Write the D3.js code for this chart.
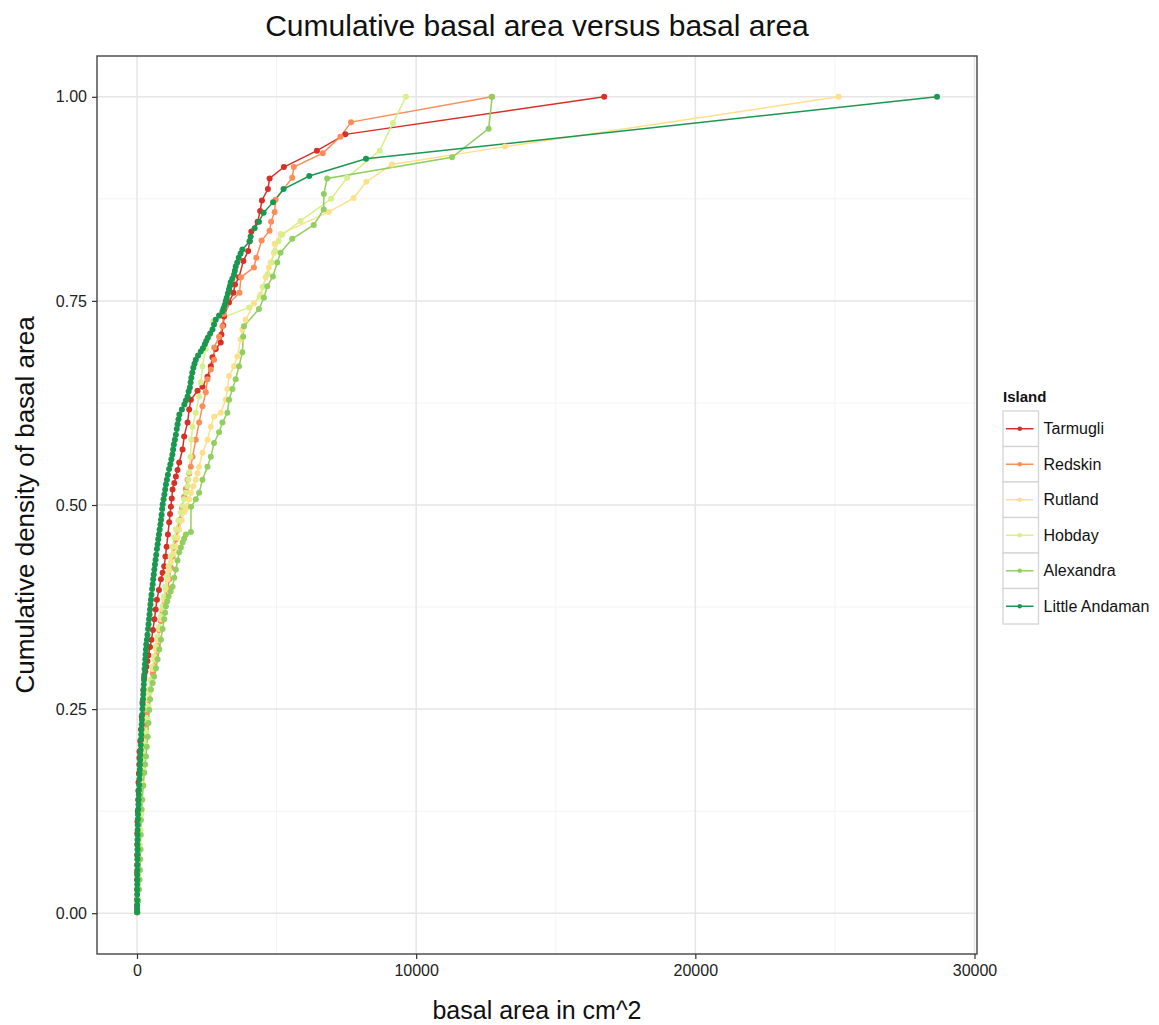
<!DOCTYPE html>
<html>
<head>
<meta charset="utf-8">
<script src="https://cdn.jsdelivr.net/npm/d3@7"></script>
<style>
  body { margin: 0; background: #fff; }
  text { font-family: "Liberation Sans", Arial, sans-serif; }
</style>
</head>
<body>
<svg id="chart" width="1159" height="1025"></svg>
<script>
// Islands in legend order, with the RdYlGn palette used for them
const islands = ["Tarmugli", "Redskin", "Rutland", "Hobday", "Alexandra", "Little Andaman"];
const palette = ["#D73027", "#FC8D59", "#FEE08B", "#D9EF8B", "#91CF60", "#1A9850"];

// Basal area (cm^2) of each plotted tree and the cumulative density reached at it
const tarmugliArea = [1,2,3,4,5,6,7,8,9,13,18,30,43,48,54,68,82,86,89,116,143,170,196,226,257,298,339,375,411,465,518,571,625,670,714,785,857,916,975,1018,1061,1108,1154,1184,1214,1245,1275,1334,1393,1452,1511,1632,1689,1811,1868,1929,2168,2346,2525,2643,2704,2821,3000,3025,3089,3118,3296,3454,3511,3654,3811,3982,4036,4096,4321,4411,4475,4690,4750,5262,6446,7464,16736];
const tarmugliCum  = [0.001,0.009,0.017,0.029,0.041,0.050,0.059,0.071,0.084,0.098,0.112,0.125,0.139,0.150,0.160,0.171,0.182,0.190,0.198,0.211,0.225,0.241,0.258,0.273,0.289,0.296,0.302,0.309,0.316,0.326,0.335,0.347,0.360,0.372,0.384,0.396,0.409,0.417,0.425,0.437,0.449,0.464,0.479,0.489,0.498,0.508,0.519,0.527,0.535,0.543,0.552,0.568,0.584,0.601,0.617,0.629,0.640,0.645,0.657,0.670,0.681,0.691,0.699,0.709,0.720,0.731,0.748,0.760,0.770,0.779,0.799,0.811,0.823,0.835,0.847,0.860,0.873,0.887,0.900,0.914,0.934,0.954,1.000];

const redskinArea = [2,6,11,22,36,52,71,92,114,140,168,194,221,262,304,357,411,465,518,568,618,679,739,768,796,857,918,977,1036,1095,1154,1215,1275,1334,1393,1465,1536,1612,1689,1750,1811,1870,1929,1989,2107,2225,2346,2464,2525,2643,2761,2765,2939,3061,3107,3179,3671,3725,4189,4275,4464,4750,4804,4929,4964,5561,5618,6654,7286,7668,12704];
const redskinCum  = [0.001,0.015,0.029,0.047,0.066,0.084,0.102,0.121,0.139,0.158,0.176,0.191,0.206,0.218,0.231,0.246,0.261,0.274,0.286,0.294,0.302,0.315,0.327,0.337,0.347,0.358,0.368,0.378,0.388,0.398,0.409,0.423,0.437,0.448,0.458,0.470,0.482,0.496,0.510,0.520,0.531,0.539,0.547,0.559,0.580,0.601,0.621,0.638,0.654,0.666,0.678,0.693,0.706,0.719,0.734,0.743,0.760,0.779,0.791,0.803,0.824,0.836,0.847,0.859,0.874,0.901,0.914,0.931,0.951,0.969,1.000];

const rutlandArea = [3,18,36,52,71,95,118,143,168,191,214,241,268,295,321,357,393,438,482,550,618,679,739,798,857,916,975,1036,1096,1155,1214,1304,1393,1452,1511,1600,1689,1750,1811,1870,1929,2018,2107,2166,2225,2346,2525,2643,2761,3000,3179,3239,3296,3475,3596,3714,3775,3893,4189,4429,4607,4725,4786,4904,4929,5143,6868,7761,8214,9132,13186,25132];
const rutlandCum  = [0.001,0.015,0.029,0.047,0.066,0.084,0.102,0.121,0.139,0.158,0.176,0.191,0.206,0.222,0.237,0.250,0.262,0.274,0.286,0.299,0.311,0.323,0.335,0.348,0.360,0.372,0.384,0.397,0.409,0.420,0.430,0.440,0.449,0.460,0.470,0.481,0.491,0.495,0.499,0.507,0.515,0.523,0.531,0.539,0.547,0.564,0.580,0.596,0.608,0.613,0.629,0.642,0.658,0.670,0.682,0.703,0.715,0.727,0.747,0.758,0.779,0.791,0.797,0.809,0.820,0.832,0.859,0.876,0.896,0.917,0.939,1.000];

const hobdayArea = [4,20,36,54,71,98,125,152,179,205,232,268,304,343,382,410,439,500,561,620,679,738,796,857,918,965,1011,1072,1132,1204,1275,1334,1393,1482,1571,1630,1689,1750,1811,1840,1868,1911,1946,1989,2107,2225,2286,2346,2464,2582,2732,4011,4393,4500,4679,4821,4946,5071,5204,5857,6954,7525,8696,9171,9632];
const hobdayCum  = [0.001,0.018,0.035,0.051,0.066,0.084,0.102,0.121,0.139,0.158,0.176,0.191,0.206,0.221,0.237,0.253,0.270,0.286,0.302,0.315,0.327,0.339,0.351,0.364,0.376,0.388,0.400,0.413,0.425,0.437,0.449,0.460,0.470,0.481,0.491,0.499,0.507,0.515,0.523,0.531,0.540,0.559,0.580,0.596,0.613,0.633,0.650,0.670,0.691,0.707,0.725,0.742,0.755,0.767,0.783,0.797,0.811,0.823,0.831,0.848,0.875,0.901,0.934,0.968,1.000];

const alexandraArea = [18,45,71,89,107,116,125,134,143,166,189,225,261,291,321,352,382,410,439,470,500,559,618,679,739,798,857,916,975,1006,1036,1084,1132,1204,1275,1334,1393,1452,1511,1572,1632,1691,1750,1929,1936,2107,2225,2346,2525,2643,2761,2939,3061,3239,3296,3418,3536,3654,3775,3804,3832,4368,4546,4668,4868,5025,5143,5561,6332,6689,6693,6811,11286,12597,12721];
const alexandraCum  = [0.001,0.015,0.029,0.041,0.053,0.066,0.078,0.096,0.114,0.127,0.139,0.156,0.172,0.182,0.192,0.204,0.216,0.233,0.249,0.262,0.274,0.282,0.290,0.300,0.311,0.323,0.335,0.348,0.360,0.368,0.376,0.382,0.388,0.394,0.400,0.411,0.421,0.432,0.442,0.448,0.454,0.459,0.464,0.467,0.498,0.507,0.515,0.531,0.547,0.559,0.576,0.589,0.601,0.613,0.629,0.642,0.654,0.670,0.687,0.706,0.719,0.740,0.754,0.768,0.780,0.797,0.809,0.826,0.843,0.862,0.881,0.900,0.926,0.961,1.000];

const littleAndamanArea = [2,3,4,5,6,7,8,9,10,11,12,14,15,17,18,19,20,22,25,30,36,43,50,57,64,71,79,86,93,100,107,114,121,129,136,143,150,159,168,177,186,195,204,214,225,234,243,252,261,273,286,296,307,320,332,354,375,395,414,432,450,466,482,500,518,540,561,580,600,621,643,666,689,714,739,762,786,812,839,861,882,902,921,951,982,1009,1036,1071,1107,1150,1196,1232,1268,1295,1321,1357,1393,1424,1454,1486,1518,1607,1696,1750,1811,1850,1893,1920,1946,1980,2018,2060,2107,2190,2286,2360,2429,2480,2536,2620,2704,2760,2821,2940,3061,3100,3143,3180,3214,3255,3296,3325,3357,3415,3475,3505,3536,3590,3643,3710,3775,4036,4071,4214,4368,4536,4875,5250,6171,8204,28657];
const littleAndamanCum  = [0.001,0.005,0.010,0.016,0.023,0.029,0.035,0.041,0.047,0.053,0.059,0.066,0.072,0.078,0.084,0.090,0.096,0.102,0.108,0.115,0.121,0.127,0.133,0.139,0.145,0.151,0.157,0.164,0.170,0.176,0.182,0.188,0.194,0.200,0.206,0.213,0.219,0.225,0.231,0.237,0.243,0.250,0.256,0.262,0.268,0.274,0.280,0.286,0.292,0.299,0.305,0.311,0.317,0.323,0.329,0.335,0.341,0.348,0.354,0.360,0.366,0.372,0.378,0.384,0.390,0.397,0.403,0.409,0.415,0.421,0.427,0.433,0.439,0.446,0.452,0.458,0.464,0.470,0.476,0.482,0.488,0.495,0.501,0.507,0.513,0.519,0.525,0.531,0.537,0.544,0.550,0.556,0.562,0.568,0.574,0.580,0.586,0.593,0.599,0.605,0.611,0.617,0.623,0.628,0.633,0.639,0.644,0.650,0.656,0.662,0.668,0.673,0.678,0.683,0.688,0.692,0.697,0.701,0.705,0.710,0.715,0.721,0.727,0.732,0.737,0.741,0.745,0.750,0.754,0.759,0.764,0.768,0.773,0.777,0.782,0.787,0.792,0.797,0.803,0.808,0.813,0.823,0.829,0.839,0.847,0.858,0.871,0.887,0.903,0.924,1.000];

// Axis ticks
const xTicks = [0, 10000, 20000, 30000];
const xMinorTicks = [5000, 15000, 25000];
const yTicks = [0, 0.25, 0.5, 0.75, 1];
const yMinorTicks = [0.125, 0.375, 0.625, 0.875];

const titleText = "Cumulative basal area versus basal area";
const xLabel = "basal area in cm^2";
const yLabel = "Cumulative density of basal area";
const legendTitle = "Island";

// Assemble one record per island for drawing
const areas = [tarmugliArea, redskinArea, rutlandArea, hobdayArea, alexandraArea, littleAndamanArea];
const cums  = [tarmugliCum, redskinCum, rutlandCum, hobdayCum, alexandraCum, littleAndamanCum];
const series = islands.map((name, i) => ({
  name, color: palette[i],
  points: areas[i].map((a, j) => ({ area: a, cum: cums[i][j] }))
}));

const svg = d3.select("#chart");
svg.append("rect").attr("width", 1159).attr("height", 1025).attr("fill", "#fff");

const panel = { left: 97, right: 977, top: 56, bottom: 954 };

// Continuous scales with 5% padding on both sides
const allPts = series.flatMap(s => s.points);
const xExt = [0, d3.max(allPts, d => d.area)];
const xPad = (xExt[1] - xExt[0]) * 0.05;
const x = d3.scaleLinear().domain([xExt[0] - xPad, xExt[1] + xPad]).range([panel.left, panel.right]);
const y = d3.scaleLinear().domain([-0.05, 1.05]).range([panel.bottom, panel.top]);

// Grid
const grid = svg.append("g");
grid.selectAll(".xminor").data(xMinorTicks).join("line")
  .attr("x1", d => x(d)).attr("x2", d => x(d)).attr("y1", panel.top).attr("y2", panel.bottom)
  .attr("stroke", "#f3f3f3").attr("stroke-width", 1);
grid.selectAll(".yminor").data(yMinorTicks).join("line")
  .attr("y1", d => y(d)).attr("y2", d => y(d)).attr("x1", panel.left).attr("x2", panel.right)
  .attr("stroke", "#f3f3f3").attr("stroke-width", 1);
grid.selectAll(".xmajor").data(xTicks).join("line")
  .attr("x1", d => x(d)).attr("x2", d => x(d)).attr("y1", panel.top).attr("y2", panel.bottom)
  .attr("stroke", "#e6e6e6").attr("stroke-width", 1.5);
grid.selectAll(".ymajor").data(yTicks).join("line")
  .attr("y1", d => y(d)).attr("y2", d => y(d)).attr("x1", panel.left).attr("x2", panel.right)
  .attr("stroke", "#e6e6e6").attr("stroke-width", 1.5);

// Lines first, then points, island by island
const line = d3.line().x(d => x(d.area)).y(d => y(d.cum));
const plot = svg.append("g");
plot.selectAll("path.series").data(series).join("path")
  .attr("class", "series")
  .attr("d", d => line(d.points))
  .attr("fill", "none")
  .attr("stroke", d => d.color)
  .attr("stroke-width", 1.5);
series.forEach(s => {
  plot.append("g").selectAll("circle").data(s.points).join("circle")
    .attr("cx", d => x(d.area)).attr("cy", d => y(d.cum))
    .attr("r", 3).attr("fill", s.color);
});

// Panel border
svg.append("rect")
  .attr("x", panel.left).attr("y", panel.top)
  .attr("width", panel.right - panel.left).attr("height", panel.bottom - panel.top)
  .attr("fill", "none").attr("stroke", "#444").attr("stroke-width", 1.4);

// Axes
const xAxis = svg.append("g").attr("transform", `translate(0,${panel.bottom})`)
  .call(d3.axisBottom(x).tickValues(xTicks).tickFormat(d3.format("d")).tickSize(5).tickPadding(6));
const yAxis = svg.append("g").attr("transform", `translate(${panel.left},0)`)
  .call(d3.axisLeft(y).tickValues(yTicks).tickFormat(d3.format(".2f")).tickSize(5).tickPadding(5));
[xAxis, yAxis].forEach(g => {
  g.select(".domain").remove();
  g.selectAll(".tick line").attr("stroke", "#333").attr("stroke-width", 1.2);
  g.selectAll(".tick text").attr("fill", "#222").attr("font-size", 16)
    .attr("font-family", "'Liberation Sans', Arial, sans-serif");
});

// Titles
svg.append("text").attr("x", (panel.left + panel.right) / 2).attr("y", 36)
  .attr("text-anchor", "middle").attr("font-size", 30).attr("fill", "#111").text(titleText);
svg.append("text").attr("x", (panel.left + panel.right) / 2).attr("y", 1019)
  .attr("text-anchor", "middle").attr("font-size", 25).attr("fill", "#111").text(xLabel);
svg.append("text").attr("transform", `translate(34,${(panel.top + panel.bottom) / 2}) rotate(-90)`)
  .attr("text-anchor", "middle").attr("font-size", 26).attr("fill", "#111").text(yLabel);

// Legend
const legend = svg.append("g").attr("transform", "translate(1003,411)");
const keySize = 35.5;
legend.append("text").attr("x", 0).attr("y", -9).attr("font-size", 15).attr("font-weight", "bold")
  .attr("fill", "#111").text(legendTitle);
const keys = legend.selectAll("g.key").data(series).join("g")
  .attr("class", "key").attr("transform", (d, i) => `translate(0,${i * keySize})`);
keys.append("rect").attr("width", keySize).attr("height", keySize)
  .attr("fill", "#fff").attr("stroke", "#d4d4d4").attr("stroke-width", 1.3);
keys.append("line").attr("x1", 3).attr("x2", keySize - 5).attr("y1", keySize / 2).attr("y2", keySize / 2)
  .attr("stroke", d => d.color).attr("stroke-width", 1.5);
keys.append("circle").attr("cx", keySize / 2 - 1).attr("cy", keySize / 2).attr("r", 2.3).attr("fill", d => d.color);
keys.append("text").attr("x", keySize + 5).attr("y", keySize / 2 + 5.5)
  .attr("font-size", 16).attr("fill", "#111").text(d => d.name);
</script>
</body>
</html>
